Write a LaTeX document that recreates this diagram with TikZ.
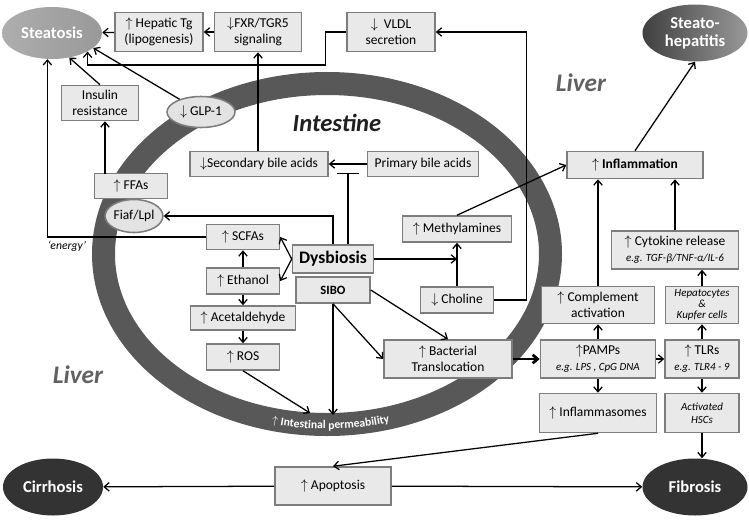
\documentclass[tikz,border=0pt]{standalone}
\usepackage{fontspec}
\setmainfont{Carlito}
\usetikzlibrary{arrows.meta, positioning, shapes.geometric, decorations.text}

\definecolor{boxfill}{RGB}{233,233,233}
\definecolor{boxline}{RGB}{125,125,125}
\definecolor{ringgray}{RGB}{88,88,88}
\newcommand\egline[1]{{\fontsize{7.8}{9}\selectfont\itshape #1}}

\begin{document}
\begin{tikzpicture}[x=0.025cm, y=-0.025cm,
	>={Straight Barb[length=3.5pt,width=6pt]},
	every node/.style={font=\fontsize{9.6}{11.4}\selectfont},
	wh/.style 2 args={minimum width=#1*0.025cm, minimum height=#2*0.025cm},
	box/.style={draw=boxline, fill=boxfill, line width=1.1pt, inner sep=0pt, align=center},
	oval/.style={ellipse, draw=boxline, fill=black!11, line width=1.1pt, inner sep=0pt, align=center},
	stage/.style={ellipse, inner sep=0pt, align=center, text=white, font=\fontsize{11.8}{12.8}\selectfont\bfseries},
	liver/.style={text=black!62, font=\fontsize{18}{20}\selectfont\bfseries\itshape},
	link/.style={->, line width=0.9pt}]
	\useasboundingbox (0,0) rectangle (749,520);
	
	% Intestine ring
	\draw[ringgray, line width=23*0.025cm] (327,254) ellipse [x radius=223.5, y radius=170.5];
	\begin{scope}[shift={(327,254)}, y=0.025cm]
		\path[decorate, decoration={text along path, text align=center, text color=white,
			text={|\fontsize{8.3}{9}\selectfont\bfseries|{$\uparrow$} Intestinal permeability}}]
			(248:226 and 175) arc [start angle=248, end angle=294, x radius=226, y radius=175];
	\end{scope}
	\node[font=\fontsize{17.5}{20}\selectfont\bfseries\itshape, text=black!88] (intestine) at (337,123) {Intestine};
	\node[liver] (liverR) at (581,83) {Liver};
	\node[liver] (liverL) at (78,375) {Liver};
	
	% Outcomes
	\node[stage, wh={100}{52}, left color=black!32, right color=black!40] (steat) at (52,33) {Steatosis};
	\node[stage, wh={105}{57}, left color=black!75, right color=black!40] (nash) at (695,33) {Steato-\\hepatitis};
	\node[stage, wh={100}{57}, fill=black!80] (cirr) at (53,487) {Cirrhosis};
	\node[stage, wh={105}{57}, fill=black!80] (fib) at (695,487) {Fibrosis};
	
	% Top row
	\node[box, wh={88}{39}] (tg) at (159,32) {$\uparrow$ Hepatic Tg\\(lipogenesis)};
	\node[box, wh={87}{39}] (fxr) at (258,32) {$\downarrow$FXR/TGR5\\signaling};
	\node[box, wh={88}{39}] (vldl) at (391,32) {$\downarrow$ \ VLDL\\secretion};
	\node[box, wh={77}{35}] (insulin) at (100,103) {Insulin\\resistance};
	\node[oval, wh={68}{31}] (glp) at (201,112) {$\downarrow$ GLP-1};
	
	% Bile acids
	\node[box, wh={138}{25}] (secba) at (259,164) {$\downarrow$Secondary bile acids};
	\node[box, wh={111}{25}] (priba) at (423,164) {Primary bile acids};
	
	% Left column
	\node[box, wh={73}{25}] (ffa) at (131,186) {$\uparrow$ FFAs};
	\node[oval, wh={57}{33}] (fiaf) at (134,216) {Fiaf/Lpl};
	\node[box, wh={73}{25}] (scfa) at (243,237) {$\uparrow$ SCFAs};
	\node[box, wh={73}{26}] (etoh) at (243,281) {$\uparrow$ Ethanol};
	\node[box, wh={105}{24}] (acet) at (243,318) {$\uparrow$ Acetaldehyde};
	\node[box, wh={73}{26}] (ros) at (243,357) {$\uparrow$ ROS};
	\node[font=\fontsize{8.3}{9}\selectfont\itshape] (energy) at (67,246) {‘energy’};
	
	% Centre
	\node[box, wh={81}{28}, font=\fontsize{12.5}{14}\selectfont\bfseries] (dys) at (333,259) {Dysbiosis};
	\node[box, wh={74}{26}, font=\fontsize{9}{10}\selectfont\bfseries] (sibo) at (333,290) {SIBO};
	\node[box, wh={109}{26}] (methyl) at (457,229) {$\uparrow$ Methylamines};
	\node[box, wh={73}{26}] (choline) at (457,300) {$\downarrow$ Choline};
	\node[box, wh={128}{38}] (transloc) at (448,359) {$\uparrow$ Bacterial\\Translocation};
	
	% Right side
	\node[box, wh={136}{27}, font=\fontsize{9.6}{11}\selectfont\bfseries] (inflam) at (635,165) {$\uparrow$ Inflammation};
	\node[box, wh={127}{38}] (cyto) at (675,250) {$\uparrow$ Cytokine release\\\egline{e.g. TGF-β/TNF-α/IL-6}};
	\node[box, wh={113}{37}] (compl) at (598,305) {$\uparrow$ Complement\\activation};
	\node[box, wh={73}{37}, font=\fontsize{7.8}{7.6}\selectfont\itshape] (hepk) at (702,305) {Hepatocytes\\\&\\Kupfer cells};
	\node[box, wh={115}{38}] (pamps) at (598,359) {$\uparrow$PAMPs\\\egline{e.g. LPS , CpG DNA}};
	\node[box, wh={74}{38}] (tlr) at (702,359) {$\uparrow$ TLRs\\\egline{e.g. TLR4 - 9}};
	\node[box, wh={117}{39}] (inflsome) at (598,413) {$\uparrow$ Inflammasomes};
	\node[box, wh={74}{39}, font=\fontsize{7.8}{9.5}\selectfont\itshape] (hsc) at (702,413) {Activated\\HSCs};
	\node[box, wh={116}{38}] (apop) at (333,486) {$\uparrow$ Apoptosis};
	
	% Free ends
	\coordinate (ffaup) at (105,174);
	\coordinate (block) at (348,173);
	\coordinate (perm1) at (310,413);
	\coordinate (perm2) at (333,415);
	
	% Liver connections
	\draw[link] (tg) -- (steat);
	\draw[link] (fxr) -- (tg);
	\draw[link] (fxr |- secba.north) -- (fxr.south);
	\draw[link] (priba) -- (secba);
	\draw[-{Bar[width=15pt]}, line width=0.9pt] (block |- dys.north) -- (block);
	\draw[link] (choline.east) -- ++(32,0) |- (vldl.east);
	\draw[link] (vldl.west) -- ++(-21,0) -- ++(0,33) -| (steat.south east);
	\draw[link] (insulin.north) -- (steat.-55);
	\draw[link] (glp) -- (steat.-20);
	\draw[link] (ffaup) -- (ffaup |- insulin.south);
	\draw[link] (scfa.west) -| (steat.-100);
	\draw[link] (dys.north) |- (fiaf.east);
	
	% Gut connections
	\draw[link] (dys.west) -- (scfa.east);
	\draw[link] (dys.west) -- (etoh.east);
	\draw[link] (etoh) -- (scfa);
	\draw[link] (etoh) -- (acet);
	\draw[link] (acet) -- (ros);
	\draw[link] (ros.south) -- (perm1);
	\draw[link] (sibo) -- (perm2);
	\draw[link] (sibo.south) -- (transloc.west);
	\draw[link] (sibo.east) -- (transloc.north);
	\draw[link] (dys.east) -- (dys.east -| methyl);
	\draw[link] (choline) -- (methyl);
	\draw[link] (methyl.north) -- (inflam.west);
	
	% Inflammation and fibrosis
	\draw[link] (inflam.north) -- (nash.south);
	\draw[link] (compl) -- (compl |- inflam.south);
	\draw[link] (cyto) -- (cyto |- inflam.south);
	\draw[link] (hepk) -- (hepk |- cyto.south);
	\draw[link] (pamps) -- (compl);
	\draw[link] (tlr) -- (hepk);
	\draw[link, line width=2pt] (transloc) -- (pamps);
	\draw[link] (pamps) -- (tlr);
	\draw[link] (pamps) -- (inflsome);
	\draw[link] (tlr) -- (hsc);
	\draw[link] (hsc.south) -- (hsc.south |- fib.north);
	\draw[link] (inflsome.south) -- (apop.north);
	\draw[link] (apop) -- (cirr);
	\draw[link] (apop) -- (fib);
\end{tikzpicture}
\end{document}
